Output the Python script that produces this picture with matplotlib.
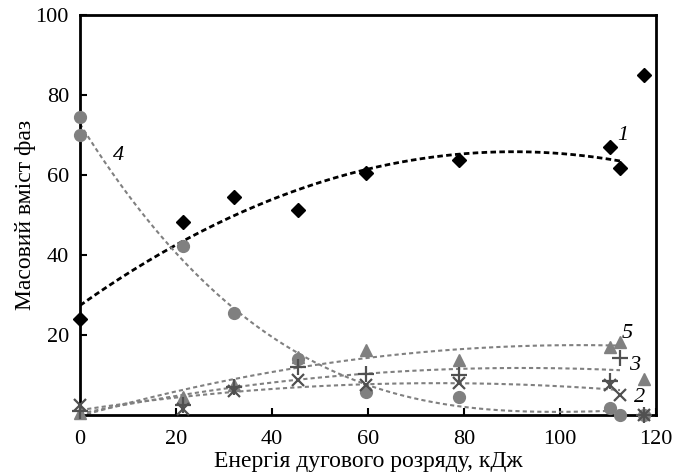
import numpy as np
import matplotlib.pyplot as plt

plt.rcParams['font.family'] = ['Liberation Serif', 'DejaVu Serif']

# energy of the arc discharge, kJ
energy = [0, 21.5, 32, 45.5, 59.5, 79, 110.5, 112.5, 117.5]
phase1 = [24, 48.25, 54.5, 51.25, 60.5, 63.75, 67, 61.75, 85]
phase2 = [2.5, 1.5, 6, 8.75, 7.5, 8, 7.5, 5, 0]
phase3 = [1, 2.5, 7, 12, 10.25, 10, 8.5, 14.25, 0]
phase5 = [0.5, 4.5, 7.5, 14.5, 16.25, 13.75, 17, 18.25, 9]
energy4 = [0, 0, 21.5, 32, 45.5, 59.5, 79, 110.5, 112.5, 117.5]
phase4 = [74.5, 70, 42.25, 25.5, 14, 5.75, 4.5, 1.75, 0, 0]

xticks = [0, 20, 40, 60, 80, 100, 120]
yticks = [20, 40, 60, 80, 100]

grey = '#808080'
dark = '#505050'

fig = plt.figure(figsize=(6.77, 4.73), dpi=100)
ax = fig.add_axes([80/677, 1-415/473, 576/677, 400/473])

def trend(x, y, deg, color, lw, dash):
    # polynomial trendline fitted without the last point
    c = np.polyfit(x[:-1], y[:-1], deg)
    xx = np.linspace(0, 112.5, 200)
    ax.plot(xx, np.polyval(c, xx), color=color, lw=lw, dashes=dash, zorder=2)

trend(energy, phase1, 2, 'black', 2.0, (2, 1.2))
trend(energy, phase2, 2, grey, 1.5, (2, 1.5))
trend(energy, phase3, 2, grey, 1.5, (2, 1.5))
trend(energy, phase5, 2, grey, 1.5, (2, 1.5))
trend(energy4, phase4, 3, grey, 1.5, (2, 1.5))

kw = dict(clip_on=False, zorder=3, linestyle='none')
ax.plot(energy, phase1, marker='D', ms=7, color='black', **kw)
ax.plot(energy4, phase4, marker='o', ms=8.5, color=grey, **kw)
ax.plot(energy, phase5, marker='^', ms=8.5, color=grey, **kw)
ax.plot(energy, phase2, marker='x', ms=9, mew=1.6, color=dark, **kw)
ax.plot(energy, phase3, marker='+', ms=11, mew=1.6, color=dark, **kw)

lab = dict(fontsize=16, style='italic', ha='center', va='center')
ax.text(113, 70, '1', **lab)
ax.text(8, 65, '4', **lab)
ax.text(114, 20.5, '5', **lab)
ax.text(115.5, 12.5, '3', **lab)
ax.text(116.5, 4.5, '2', **lab)

ax.set_xlim(0, 120)
ax.set_ylim(0, 100)
ax.set_xticks(xticks)
ax.set_yticks(yticks)
ax.tick_params(direction='in', length=5, width=1.5, labelsize=16)
ax.tick_params(axis='x', pad=11)
ax.tick_params(axis='y', pad=8)
for s in ax.spines.values():
    s.set_linewidth(2)
ax.set_xlabel('Енергія дугового розряду, кДж', fontsize=17, labelpad=1)
ax.set_ylabel('Масовий вміст фаз', fontsize=17, labelpad=0)

fig.savefig('out.png', dpi=100)
